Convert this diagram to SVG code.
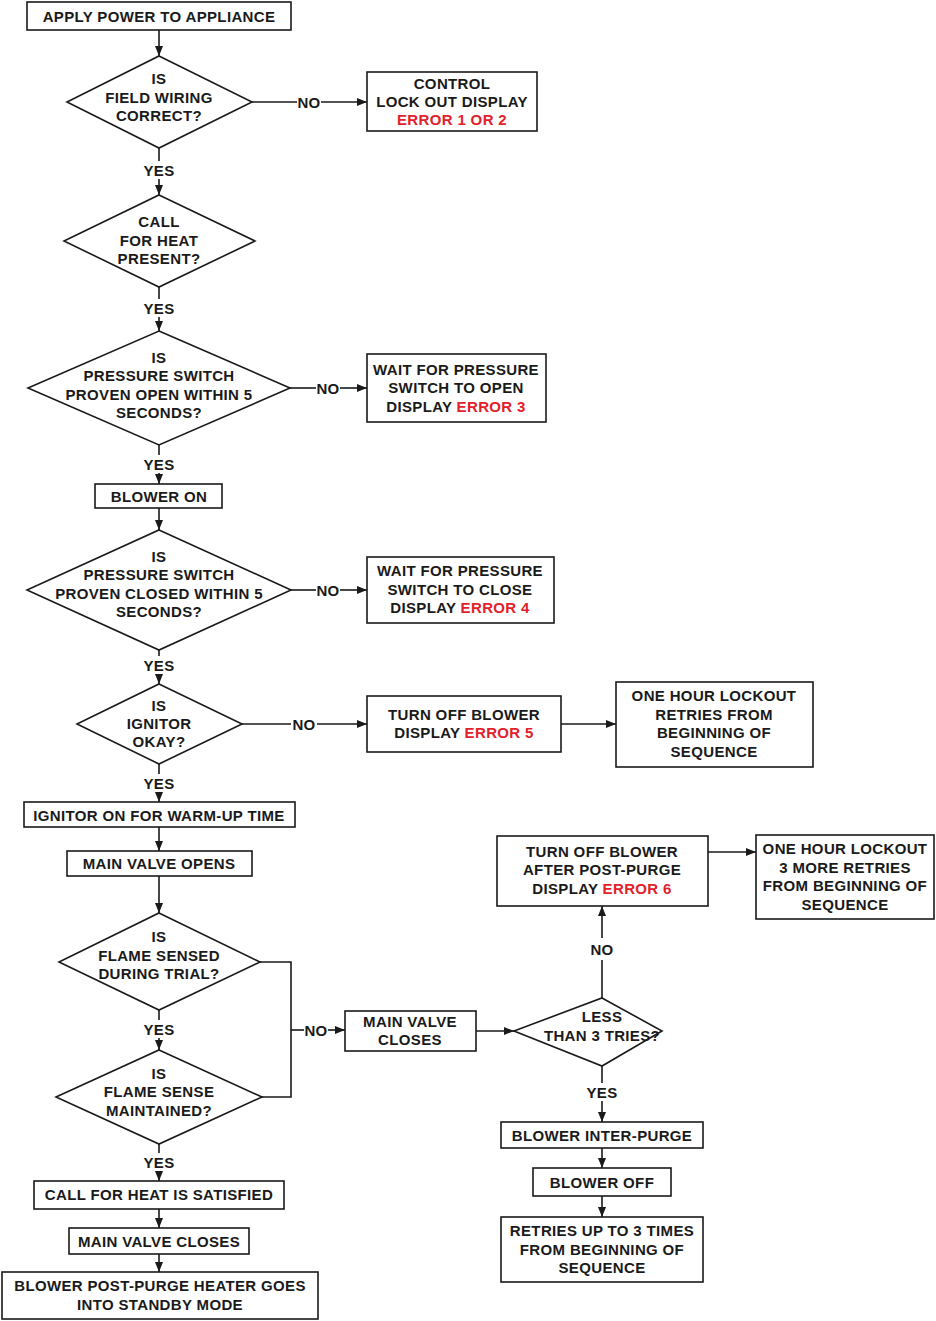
<svg xmlns="http://www.w3.org/2000/svg" width="936" height="1321" viewBox="0 0 936 1321">
<style>
.n{fill:#fff;stroke:#1a1a1a;stroke-width:1.6}
.c{fill:none;stroke:#1a1a1a;stroke-width:1.6}
.t{font-family:"Liberation Sans",Arial,sans-serif;font-weight:bold;font-size:15px;letter-spacing:0.35px;text-anchor:middle;dominant-baseline:central;fill:#1a1a1a}
.r{fill:#e3212b}
</style>
<defs>
<marker id="ah" viewBox="0 0 10 10" refX="10" refY="5" markerWidth="10" markerHeight="10" markerUnits="userSpaceOnUse" orient="auto"><path d="M0,1 L10,5 L0,9 z" fill="#1a1a1a"/></marker>
</defs>
<rect width="936" height="1321" fill="#fff"/>
<g id="connectors">
<line class="c" x1="159" y1="30" x2="159" y2="56" marker-end="url(#ah)"/>
<line class="c" x1="252" y1="102" x2="297" y2="102"/>
<line class="c" x1="321" y1="102" x2="367" y2="102" marker-end="url(#ah)"/>
<line class="c" x1="159" y1="148" x2="159" y2="161"/>
<line class="c" x1="159" y1="179" x2="159" y2="195" marker-end="url(#ah)"/>
<line class="c" x1="159" y1="287" x2="159" y2="299"/>
<line class="c" x1="159" y1="317" x2="159" y2="331" marker-end="url(#ah)"/>
<line class="c" x1="290" y1="388" x2="316" y2="388"/>
<line class="c" x1="340" y1="388" x2="367" y2="388" marker-end="url(#ah)"/>
<line class="c" x1="159" y1="445" x2="159" y2="455"/>
<line class="c" x1="159" y1="473" x2="159" y2="484" marker-end="url(#ah)"/>
<line class="c" x1="159" y1="508" x2="159" y2="530" marker-end="url(#ah)"/>
<line class="c" x1="291" y1="590" x2="316" y2="590"/>
<line class="c" x1="340" y1="590" x2="367" y2="590" marker-end="url(#ah)"/>
<line class="c" x1="159" y1="650" x2="159" y2="656"/>
<line class="c" x1="159" y1="674" x2="159" y2="684" marker-end="url(#ah)"/>
<line class="c" x1="242" y1="724" x2="291" y2="724"/>
<line class="c" x1="317" y1="724" x2="367" y2="724" marker-end="url(#ah)"/>
<line class="c" x1="561" y1="724" x2="616" y2="724" marker-end="url(#ah)"/>
<line class="c" x1="159" y1="764" x2="159" y2="774"/>
<line class="c" x1="159" y1="792" x2="159" y2="802" marker-end="url(#ah)"/>
<line class="c" x1="159" y1="827" x2="159" y2="851" marker-end="url(#ah)"/>
<line class="c" x1="159" y1="876" x2="159" y2="913" marker-end="url(#ah)"/>
<line class="c" x1="159" y1="1010" x2="159" y2="1020"/>
<line class="c" x1="159" y1="1038" x2="159" y2="1050" marker-end="url(#ah)"/>
<polyline class="c" points="260,962 291,962 291,1097 262,1097"/>
<line class="c" x1="291" y1="1030" x2="304" y2="1030"/>
<line class="c" x1="328" y1="1030" x2="345" y2="1030" marker-end="url(#ah)"/>
<line class="c" x1="159" y1="1144" x2="159" y2="1153"/>
<line class="c" x1="159" y1="1171" x2="159" y2="1181" marker-end="url(#ah)"/>
<line class="c" x1="159" y1="1209" x2="159" y2="1228" marker-end="url(#ah)"/>
<line class="c" x1="159" y1="1254" x2="159" y2="1272" marker-end="url(#ah)"/>
<line class="c" x1="476" y1="1031" x2="514" y2="1031" marker-end="url(#ah)"/>
<line class="c" x1="602" y1="998" x2="602" y2="960"/>
<line class="c" x1="602" y1="938" x2="602" y2="906" marker-end="url(#ah)"/>
<line class="c" x1="708" y1="852" x2="756" y2="852" marker-end="url(#ah)"/>
<line class="c" x1="602" y1="1066" x2="602" y2="1083"/>
<line class="c" x1="602" y1="1101" x2="602" y2="1122" marker-end="url(#ah)"/>
<line class="c" x1="602" y1="1148" x2="602" y2="1168" marker-end="url(#ah)"/>
<line class="c" x1="602" y1="1196" x2="602" y2="1217" marker-end="url(#ah)"/>
<text class="t" x="309" y="102">NO</text>
<text class="t" x="159" y="170">YES</text>
<text class="t" x="159" y="308">YES</text>
<text class="t" x="328" y="388">NO</text>
<text class="t" x="159" y="464">YES</text>
<text class="t" x="328" y="590">NO</text>
<text class="t" x="159" y="665">YES</text>
<text class="t" x="304" y="724">NO</text>
<text class="t" x="159" y="783">YES</text>
<text class="t" x="159" y="1029">YES</text>
<text class="t" x="316" y="1030">NO</text>
<text class="t" x="159" y="1162">YES</text>
<text class="t" x="602" y="949">NO</text>
<text class="t" x="602" y="1092">YES</text>
</g>
<g id="apply_power"><rect class="n" x="27" y="2" width="264" height="28"/><text class="t" x="159" y="16">APPLY POWER TO APPLIANCE</text></g>
<g id="field_wiring"><polygon class="n" points="159,56 252,102 159,148 67,102"/><text class="t" x="159" y="78">IS</text><text class="t" x="159" y="97">FIELD WIRING</text><text class="t" x="159" y="115">CORRECT?</text></g>
<g id="control_lockout"><rect class="n" x="367" y="72" width="170" height="59"/><text class="t" x="452" y="83">CONTROL</text><text class="t" x="452" y="101">LOCK OUT DISPLAY</text><text class="t r" x="452" y="119">ERROR 1 OR 2</text></g>
<g id="call_for_heat"><polygon class="n" points="159,195 255,241 159,287 64,241"/><text class="t" x="159" y="221">CALL</text><text class="t" x="159" y="240">FOR HEAT</text><text class="t" x="159" y="258">PRESENT?</text></g>
<g id="ps_open"><polygon class="n" points="159,331 290,388 159,445 28,388"/><text class="t" x="159" y="357">IS</text><text class="t" x="159" y="375">PRESSURE SWITCH</text><text class="t" x="159" y="394">PROVEN OPEN WITHIN 5</text><text class="t" x="159" y="412">SECONDS?</text></g>
<g id="wait_open"><rect class="n" x="367" y="354" width="179" height="68"/><text class="t" x="456" y="369">WAIT FOR PRESSURE</text><text class="t" x="456" y="387">SWITCH TO OPEN</text><text class="t" x="456" y="406">DISPLAY <tspan class="r">ERROR 3</tspan></text></g>
<g id="blower_on"><rect class="n" x="95" y="484" width="127" height="24"/><text class="t" x="159" y="496">BLOWER ON</text></g>
<g id="ps_closed"><polygon class="n" points="159,530 291,590 159,650 27,590"/><text class="t" x="159" y="556">IS</text><text class="t" x="159" y="574">PRESSURE SWITCH</text><text class="t" x="159" y="593">PROVEN CLOSED WITHIN 5</text><text class="t" x="159" y="611">SECONDS?</text></g>
<g id="wait_close"><rect class="n" x="367" y="557" width="187" height="66"/><text class="t" x="460" y="570">WAIT FOR PRESSURE</text><text class="t" x="460" y="589">SWITCH TO CLOSE</text><text class="t" x="460" y="607">DISPLAY <tspan class="r">ERROR 4</tspan></text></g>
<g id="ignitor_ok"><polygon class="n" points="159,684 242,724 159,764 77,724"/><text class="t" x="159" y="705">IS</text><text class="t" x="159" y="723">IGNITOR</text><text class="t" x="159" y="741">OKAY?</text></g>
<g id="turn_off_5"><rect class="n" x="367" y="696" width="194" height="56"/><text class="t" x="464" y="714">TURN OFF BLOWER</text><text class="t" x="464" y="732">DISPLAY <tspan class="r">ERROR 5</tspan></text></g>
<g id="lockout_1"><rect class="n" x="616" y="682" width="197" height="85"/><text class="t" x="714" y="695">ONE HOUR LOCKOUT</text><text class="t" x="714" y="714">RETRIES FROM</text><text class="t" x="714" y="732">BEGINNING OF</text><text class="t" x="714" y="751">SEQUENCE</text></g>
<g id="ignitor_on"><rect class="n" x="24" y="802" width="271" height="25"/><text class="t" x="159" y="815">IGNITOR ON FOR WARM-UP TIME</text></g>
<g id="main_valve_opens"><rect class="n" x="67" y="851" width="185" height="25"/><text class="t" x="159" y="863">MAIN VALVE OPENS</text></g>
<g id="flame_trial"><polygon class="n" points="159,913 260,962 159,1010 59,962"/><text class="t" x="159" y="936">IS</text><text class="t" x="159" y="955">FLAME SENSED</text><text class="t" x="159" y="973">DURING TRIAL?</text></g>
<g id="flame_maintained"><polygon class="n" points="159,1050 262,1097 159,1144 56,1097"/><text class="t" x="159" y="1073">IS</text><text class="t" x="159" y="1091">FLAME SENSE</text><text class="t" x="159" y="1110">MAINTAINED?</text></g>
<g id="heat_satisfied"><rect class="n" x="34" y="1181" width="250" height="28"/><text class="t" x="159" y="1194">CALL FOR HEAT IS SATISFIED</text></g>
<g id="main_valve_closes_1"><rect class="n" x="69" y="1228" width="180" height="26"/><text class="t" x="159" y="1241">MAIN VALVE CLOSES</text></g>
<g id="post_purge"><rect class="n" x="2" y="1272" width="316" height="47"/><text class="t" x="160" y="1285">BLOWER POST-PURGE HEATER GOES</text><text class="t" x="160" y="1304">INTO STANDBY MODE</text></g>
<g id="main_valve_closes_2"><rect class="n" x="345" y="1011" width="131" height="40"/><text class="t" x="410" y="1021">MAIN VALVE</text><text class="t" x="410" y="1039">CLOSES</text></g>
<g id="less_than_3"><polygon class="n" points="602,998 662,1031 602,1066 514,1031"/><text class="t" x="602" y="1016">LESS</text><text class="t" x="602" y="1035">THAN 3 TRIES?</text></g>
<g id="turn_off_6"><rect class="n" x="497" y="836" width="211" height="70"/><text class="t" x="602" y="851">TURN OFF BLOWER</text><text class="t" x="602" y="869">AFTER POST-PURGE</text><text class="t" x="602" y="888">DISPLAY <tspan class="r">ERROR 6</tspan></text></g>
<g id="lockout_2"><rect class="n" x="756" y="835" width="178" height="84"/><text class="t" x="845" y="848">ONE HOUR LOCKOUT</text><text class="t" x="845" y="867">3 MORE RETRIES</text><text class="t" x="845" y="885">FROM BEGINNING OF</text><text class="t" x="845" y="904">SEQUENCE</text></g>
<g id="inter_purge"><rect class="n" x="501" y="1122" width="202" height="26"/><text class="t" x="602" y="1135">BLOWER INTER-PURGE</text></g>
<g id="blower_off"><rect class="n" x="533" y="1168" width="138" height="28"/><text class="t" x="602" y="1182">BLOWER OFF</text></g>
<g id="retries"><rect class="n" x="501" y="1217" width="202" height="65"/><text class="t" x="602" y="1230">RETRIES UP TO 3 TIMES</text><text class="t" x="602" y="1249">FROM BEGINNING OF</text><text class="t" x="602" y="1267">SEQUENCE</text></g>
</svg>
